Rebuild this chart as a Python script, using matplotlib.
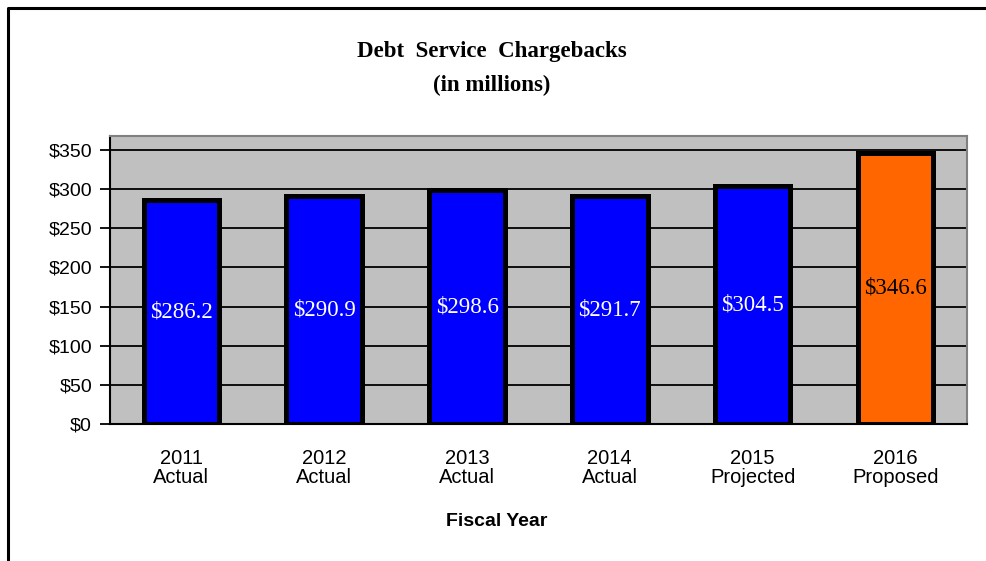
import numpy as np
import matplotlib.pyplot as plt
from matplotlib.lines import Line2D

# Debt service chargebacks by fiscal year ($ millions)
years = ['2011\nActual', '2012\nActual', '2013\nActual', '2014\nActual',
         '2015\nProjected', '2016\nProposed']
values = [286.2, 290.9, 298.6, 291.7, 304.5, 346.6]
bar_colors = ['#0000FF'] * 5 + ['#FF6600']
label_colors = ['white'] * 5 + ['black']

fig = plt.figure(figsize=(9.87, 5.61), dpi=100)
ax = fig.add_axes([0.1115, 0.2442, 0.868, 0.5134])

x = np.arange(len(years))
ax.set_facecolor('#C0C0C0')
ax.set_axisbelow(True)
ax.yaxis.grid(True, color='black', linewidth=1.3)
ax.bar(x, values, width=0.53, color=bar_colors, edgecolor='black',
       linewidth=3.6, zorder=3)

# value labels sit at mid-height of each bar
for xi, v, c in zip(x, values, label_colors):
    ax.text(xi, v / 2, f'${v:.1f}', ha='center', va='center', color=c,
            fontsize=16.5, family='Liberation Serif', zorder=4)

ax.set_xlim(-0.5, len(years) - 0.5)
ax.set_ylim(0, 368)
ax.set_yticks(range(0, 351, 50))
ax.set_yticklabels([f'${t}' for t in range(0, 351, 50)],
                   fontsize=14, family='Liberation Sans')
ax.set_xticks(x)
ax.set_xticklabels(years, fontsize=14.5, family='Liberation Sans',
                   linespacing=1.0)
ax.tick_params(axis='x', length=0, pad=18)
ax.tick_params(axis='y', length=7, width=1.3, color='black', pad=6)

for side in ['top', 'right']:
    ax.spines[side].set_color('#808080')
    ax.spines[side].set_linewidth(1.5)
for side in ['left', 'bottom']:
    ax.spines[side].set_color('black')
    ax.spines[side].set_linewidth(1.5)

fig.text(497 / 987, 1 - 522 / 561, 'Fiscal Year', ha='center', va='center',
         fontsize=14, fontweight='bold', family='Liberation Sans')

fig.text(492 / 987, 1 - 52 / 561, 'Debt  Service  Chargebacks',
         ha='center', va='center', fontsize=16.5, fontweight='bold',
         family='Liberation Serif')
fig.text(492 / 987, 1 - 85 / 561, '(in millions)',
         ha='center', va='center', fontsize=16.5, fontweight='bold',
         family='Liberation Serif')

# outer frame along the left and top edges
fx = 8 / 987
fy = 1 - 8 / 561
fig.add_artist(Line2D([fx, fx, 1.0], [0.0, fy, fy], color='black',
                      linewidth=2.2, transform=fig.transFigure))

fig.savefig('out.png', dpi=100)
